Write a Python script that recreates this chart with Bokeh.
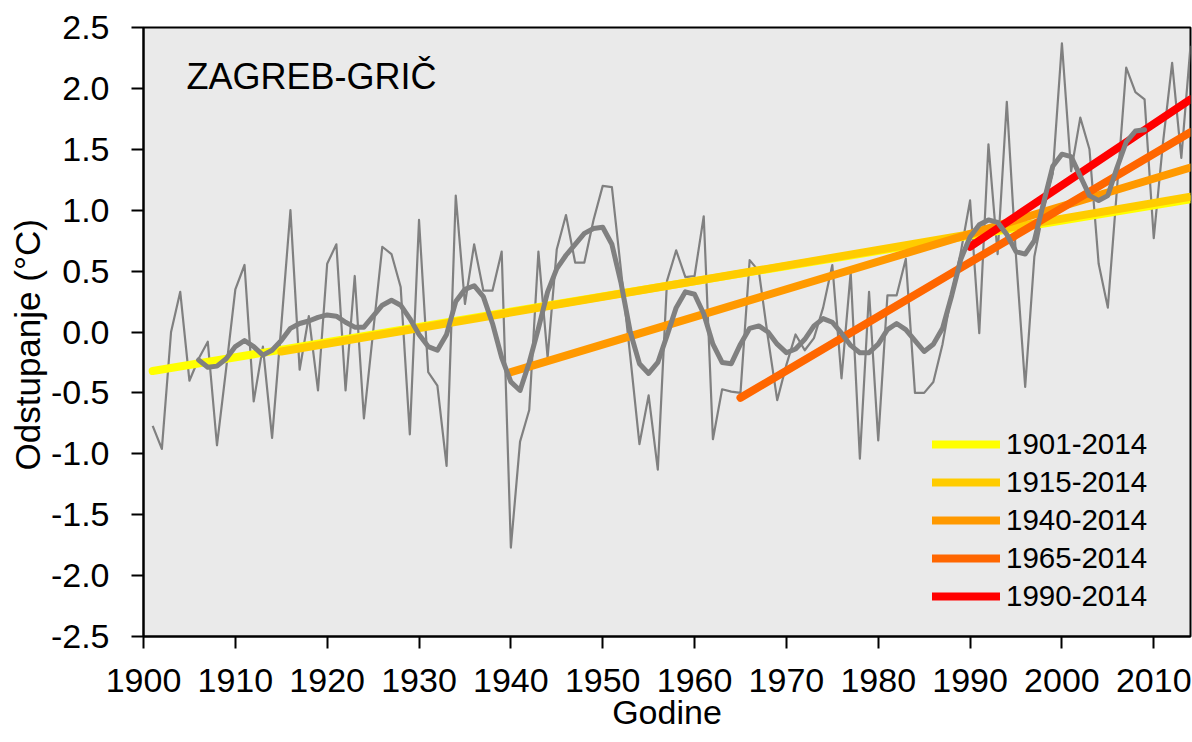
from bokeh.plotting import figure
from bokeh.models import Range1d, FixedTicker, NumeralTickFormatter, Label, Legend, LegendItem, Title
from bokeh.embed import file_html
from bokeh.resources import INLINE

# ---- data ----
years = list(range(1901, 2015))
anomaly = [
    -0.77, -0.96, 0.00, 0.33, -0.40, -0.22, -0.08, -0.93, -0.30, 0.35,   # 1901-1910
    0.55, -0.57, -0.12, -0.87, 0.05, 1.00, -0.31, 0.13, -0.48, 0.56,     # 1911-1920
    0.72, -0.48, 0.46, -0.71, 0.00, 0.70, 0.64, 0.37, -0.84, 0.92,       # 1921-1930
    -0.33, -0.44, -1.10, 1.12, 0.23, 0.72, 0.34, 0.34, 0.66, -1.77,      # 1931-1940
    -0.90, -0.64, 0.66, -0.21, 0.68, 0.96, 0.57, 0.57, 0.92, 1.20,       # 1941-1950
    1.19, 0.50, -0.20, -0.92, -0.52, -1.13, 0.42, 0.67, 0.45, 0.46,      # 1951-1960
    0.95, -0.88, -0.47, -0.49, -0.50, 0.59, 0.50, -0.05, -0.56, -0.27,   # 1961-1970
    -0.02, -0.15, -0.05, 0.20, 0.55, -0.38, 0.49, -1.04, 0.33, -0.89,    # 1971-1980
    0.30, 0.30, 0.60, -0.50, -0.50, -0.41, -0.10, 0.32, 0.66, 1.08,      # 1981-1990
    -0.01, 1.54, 0.64, 1.89, 0.62, -0.45, 0.62, 1.00, 1.30, 2.37,        # 1991-2000
    1.32, 1.76, 1.50, 0.56, 0.20, 1.18, 2.17, 1.97, 1.91, 0.77,          # 2001-2010
    1.55, 2.21, 1.43, 2.35,                                              # 2011-2014
]
smooth_years = list(range(1906, 2010))
smooth = [
    -0.23, -0.29, -0.28, -0.22, -0.12, -0.07, -0.12, -0.19, -0.15, -0.07,  # 1906-1915
    0.03, 0.07, 0.09, 0.12, 0.14, 0.13, 0.08, 0.04, 0.04, 0.13,            # 1916-1925
    0.22, 0.26, 0.22, 0.11, -0.02, -0.12, -0.15, -0.02, 0.25, 0.35,        # 1926-1935
    0.38, 0.29, 0.07, -0.21, -0.41, -0.48, -0.25, 0.03, 0.33, 0.52,        # 1936-1945
    0.63, 0.72, 0.81, 0.85, 0.86, 0.72, 0.40, 0.00, -0.26, -0.34,          # 1946-1955
    -0.25, -0.03, 0.20, 0.33, 0.31, 0.15, -0.10, -0.25, -0.26, -0.10,      # 1956-1965
    0.03, 0.05, 0.00, -0.10, -0.17, -0.14, -0.06, 0.05, 0.11, 0.08,        # 1966-1975
    -0.01, -0.11, -0.17, -0.17, -0.10, 0.02, 0.07, 0.02, -0.07, -0.16,     # 1976-1985
    -0.10, 0.03, 0.30, 0.60, 0.78, 0.88, 0.92, 0.90, 0.80, 0.66,           # 1986-1995
    0.64, 0.75, 1.06, 1.36, 1.46, 1.44, 1.28, 1.12, 1.08, 1.12,            # 1996-2005
    1.35, 1.56, 1.65, 1.66,                                                # 2006-2009
]
trend_labels = ["1901-2014", "1915-2014", "1940-2014", "1965-2014", "1990-2014"]
trend_start_year = [1901, 1915, 1940, 1965, 1990]
trend_end_year = [2014, 2014, 2014, 2014, 2014]
trend_start_val = [-0.32, -0.16, -0.33, -0.54, 0.70]
trend_end_val = [1.09, 1.11, 1.35, 1.64, 1.91]
trend_colors = ["#FFFF00", "#FFCC00", "#FF9900", "#FF6600", "#FF0000"]
x_ticks = list(range(1900, 2011, 10))
y_ticks = [-2.5, -2.0, -1.5, -1.0, -0.5, 0.0, 0.5, 1.0, 1.5, 2.0, 2.5]

FONT = "Liberation Sans"

p = figure(width=1192, height=742, output_backend="svg", toolbar_location=None,
           x_range=Range1d(1900, 2014), y_range=Range1d(-2.5, 2.5))
p.min_border_left = 143
p.min_border_right = 2
p.min_border_top = 27
p.min_border_bottom = 106
p.background_fill_color = "#EAEAEA"
p.border_fill_color = "white"
p.outline_line_color = "black"
p.outline_line_width = 2
p.xgrid.visible = False
p.ygrid.visible = False

for ax in (p.xaxis[0], p.yaxis[0]):
    ax.axis_line_width = 2
    ax.axis_line_color = "black"
    ax.major_tick_line_width = 2
    ax.major_tick_line_color = "black"
    ax.major_tick_in = 0
    ax.major_tick_out = 12
    ax.minor_tick_line_color = None
    ax.major_label_text_font = FONT
    ax.major_label_text_font_size = "34px"
    ax.major_label_text_color = "black"
    ax.axis_label_text_font = FONT
    ax.axis_label_text_font_size = "34px"
    ax.axis_label_text_font_style = "normal"
    ax.axis_label_text_color = "black"

p.xaxis.ticker = FixedTicker(ticks=x_ticks)
p.yaxis.ticker = FixedTicker(ticks=y_ticks)
p.yaxis.formatter = NumeralTickFormatter(format="0.0")
p.xaxis.axis_label = "Godine"
p.xaxis.major_label_standoff = 20
p.xaxis.axis_label_standoff = -2
p.yaxis.major_label_standoff = 22

ytitle = Title(text="Odstupanje (°C)", align="left", offset=166, standoff=2,
               text_font=FONT, text_font_size="35px", text_font_style="normal",
               text_color="black")
p.add_layout(ytitle, "left")

# annual values
p.line(years, anomaly, line_color="#808080", line_width=2.2, line_join="round")

# trend lines
items = []
for lab, ys, ye, vs, ve, c in zip(trend_labels, trend_start_year, trend_end_year,
                                  trend_start_val, trend_end_val, trend_colors):
    r = p.line([ys, ye], [vs, ve], line_color=c, line_width=8, line_cap="round")
    items.append(LegendItem(label=lab, renderers=[r]))

# smoothed curve
p.line(smooth_years, smooth, line_color="#808080", line_width=5, line_join="round", line_cap="round")

legend = Legend(items=items, location=(789, 21), orientation="vertical",
                glyph_width=68, glyph_height=38, label_height=38, spacing=0,
                padding=0, margin=0, label_standoff=6,
                label_text_font=FONT, label_text_font_size="29.5px",
                label_text_color="black",
                background_fill_alpha=0, border_line_color=None)
p.add_layout(legend, "center")

title = Label(x=43, y=560, x_units="screen", y_units="screen", text="ZAGREB-GRIČ",
              text_font=FONT, text_font_size="36px", text_color="black",
              text_baseline="alphabetic", text_align="left")
p.add_layout(title)

open("out.html", "w").write(file_html(p, INLINE))
